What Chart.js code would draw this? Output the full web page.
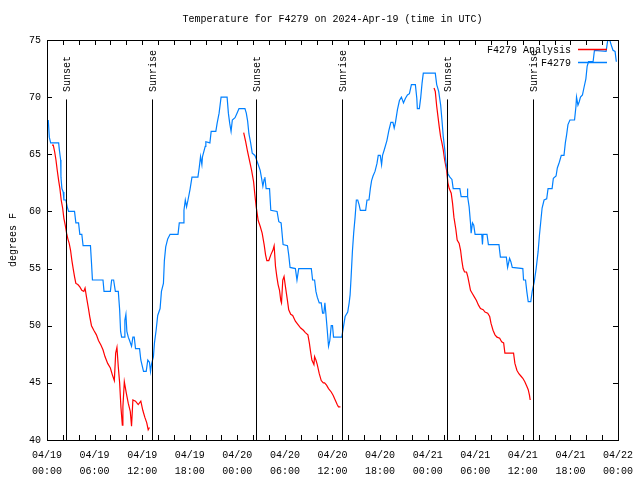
<!DOCTYPE html>
<html>
<head>
<meta charset="utf-8">
<script src="https://cdn.jsdelivr.net/npm/chart.js@4.4.1/dist/chart.umd.min.js"></script>
<style>
  html, body { margin: 0; padding: 0; background: #fff; }
  canvas { display: block; }
</style>
</head>
<body>
<canvas id="chart" width="640" height="480"></canvas>
<script>
// hours since 2024-04-19 00:00 UTC
const obsHours = [0.16,0.29,0.46,1.47,1.54,1.72,1.76,1.88,2.04,2.13,2.38,2.55,2.72,3.47,3.64,3.98,4.14,4.39,4.55,5.48,5.61,5.73,7.06,7.19,7.99,8.15,8.40,8.62,8.99,9.16,9.28,9.41,9.78,9.82,9.95,10.07,10.25,10.41,10.66,10.83,11.0,11.16,11.67,11.83,12.17,12.51,12.71,12.92,13.05,13.17,13.42,13.55,13.76,13.96,14.26,14.43,14.68,14.80,14.97,15.22,15.52,16.52,16.68,17.19,17.27,17.44,17.60,17.78,18.03,18.28,19.03,19.19,19.36,19.53,19.61,19.95,20.03,20.54,20.70,21.29,21.45,21.70,21.95,22.71,22.87,23.04,23.21,23.37,23.71,23.96,24.21,24.96,25.13,25.30,25.46,25.68,25.88,26.22,26.38,26.63,26.88,27.06,27.22,27.38,27.47,27.63,28.06,28.22,29.01,29.23,29.52,29.77,30.32,30.48,30.65,31.32,31.52,31.74,33.33,33.49,33.74,33.91,34.08,34.33,34.58,34.75,34.91,35.04,35.16,35.34,35.50,35.66,35.84,36.00,36.13,37.17,37.38,37.59,37.92,38.10,38.22,38.35,38.51,38.67,38.85,39.01,39.18,39.35,39.51,40.18,40.35,40.60,40.77,40.93,41.11,41.36,41.61,41.77,42.02,42.19,42.31,42.53,42.86,43.11,43.36,43.62,43.78,43.94,44.19,44.44,44.69,44.95,45.20,45.45,45.70,45.95,46.45,46.63,46.70,46.95,47.13,47.29,47.45,48.96,49.14,49.39,49.64,49.80,49.96,50.14,50.30,50.55,50.80,51.06,51.22,52.06,52.22,52.97,53.01,53.06,53.23,53.40,53.48,53.65,53.81,53.98,54.82,54.91,54.98,55.48,55.66,56.99,57.17,57.92,58.08,58.33,58.49,58.67,60.00,60.09,60.34,60.50,60.68,61.00,61.18,61.43,61.68,61.93,62.09,62.26,62.43,62.68,63.01,63.18,63.69,63.85,64.19,64.35,64.60,64.85,65.19,65.36,65.52,65.69,65.94,66.52,66.70,66.77,66.95,67.11,67.27,67.52,67.70,67.95,68.11,68.28,68.86,69.03,70.50,70.71,70.96,71.13,71.37,71.63,71.79];
const obsTemps = [68,66.5,66,66,65.5,64.5,63,62,61.7,61,61,60.4,60,60,59,59,58,58,57,57,55.5,54,54,53,53,54,54,53,53,51.4,49.5,49,49,50.5,51,49.5,49,48.7,48.2,49,49,48,48,47,46,46,47,46.8,46,46.6,47.3,48.5,49.6,50.9,51.5,53,53.7,55.7,56.9,57.6,58,58,59,59,60.1,61,60.4,61,61.9,63,63,63.8,64.8,64.1,64.8,65.7,66.1,66,67,67,67.7,68.6,70,70,68.6,67.7,67,68,68.2,68.6,69,69,68.6,67.9,66.8,66,65.1,64.9,64.6,64.1,63.6,62.9,62.2,62.8,63,62,62,60.1,60,59.1,59,57.1,57,56.2,55.1,55,54,55,55,54,54,53,52.5,52,52,51.1,51.1,52,51.1,49.6,48.2,48.7,50,50,49,49,49.9,50.8,51.2,52,52.7,54.3,56.5,58.1,59.5,61,61,60.6,60.1,60.1,61,61,62,62.7,63.1,63.5,64.2,64.9,64.9,64.1,64.9,65.4,66.2,67.1,67.8,67.8,67.3,67.8,68.9,69.7,70,69.5,69.9,70.2,70.3,71.1,71.1,69.9,69,69,70,71.2,72.1,72.1,71.1,70.5,69.3,68,66.6,65.5,64.3,63.3,63,62.8,62,62,61.3,61.3,62,61.3,60.4,59,58.1,59,58.8,58,58,57.1,58,58,57.1,57.1,56,56,55.1,55.9,55.6,55.1,55,54,54,53,52.1,52.1,53,53.8,55,56.5,57.9,59.1,60.3,61,61.1,62,62,62.9,63.1,63.8,64.3,64.9,64.9,66,66.7,67.6,68,68,69.2,70,69.3,69.6,70,70.2,70.8,71.6,72.7,73.1,73.1,74.1,74,75,75,74.6,74.1,74,73.1];

// analysis only exists overnight; null breaks the line between nights
const anaHours = [0.63,0.79,0.97,1.13,1.29,1.47,1.63,1.79,1.97,2.13,2.30,2.47,2.63,2.80,2.97,3.14,3.30,3.47,3.64,3.89,4.14,4.39,4.64,4.80,4.98,5.23,5.39,5.61,5.90,6.23,6.49,6.81,7.06,7.31,7.65,7.99,8.24,8.49,8.66,8.82,8.99,9.16,9.32,9.50,9.57,9.75,9.82,10.0,10.25,10.50,10.66,10.83,11.16,11.50,11.83,12.08,12.33,12.58,12.76,12.92,
  18,
  24.80,25.05,25.30,25.55,25.80,26.05,26.22,26.38,26.63,26.88,27.13,27.38,27.56,27.72,27.97,28.22,28.48,28.64,28.81,28.98,29.14,29.32,29.48,29.57,29.73,29.89,30.07,30.32,30.48,30.73,30.98,31.32,31.65,31.99,32.33,32.58,32.90,33.08,33.24,33.40,33.66,33.74,33.91,34.08,34.33,34.58,34.84,35.0,35.25,35.50,35.84,36.09,36.34,36.59,36.75,37.0,
  43,
  48.80,48.96,49.14,49.30,49.46,49.64,49.80,49.96,50.14,50.39,50.55,50.72,50.97,51.14,51.31,51.56,51.72,51.97,52.15,52.31,52.47,52.65,52.90,53.06,53.23,53.40,53.65,53.90,54.15,54.41,54.66,55.0,55.23,55.57,55.82,55.99,56.24,56.49,56.74,57.08,57.33,57.58,57.74,58.83,59.0,59.25,59.50,59.75,60.0,60.25,60.50,60.68,60.84,60.93];
const anaTemps = [65.8,65.8,65.2,64.5,63.6,62.7,62,61,60.3,59.4,58.8,58.1,57.6,57.2,56.6,55.7,55,54.3,53.7,53.6,53.4,53.1,53.0,53.3,52.5,51.5,50.8,50,49.6,49.2,48.7,48.3,47.9,47.3,46.7,46.3,45.7,45.2,47.6,48.1,46.4,45,42.9,41.3,42.9,45.1,45.1,44.1,43.2,42.5,41.2,43.5,43.4,43.1,43.4,42.6,42.0,41.5,40.9,41.1,
  null,
  66.9,66.1,65.2,64.4,63.6,62.6,61.4,60.4,59.2,58.7,58.1,57.1,56.2,55.7,55.7,56.2,56.6,57,55.2,54.3,53.6,53.1,52.2,52,54,54.3,53.4,52.2,51.4,51,50.9,50.4,50.1,49.8,49.6,49.4,49.2,48.5,47.7,47,46.6,47.3,47,46.6,45.8,45.2,45,45,44.8,44.5,44.2,43.9,43.5,43.1,42.9,42.9,
  null,
  70.8,70.5,69.2,68.3,67.4,66.5,66,65.4,64.5,63.6,62.5,62,61.6,60.7,59.5,58.4,57.5,57.2,56.6,55.7,55,54.7,54.7,54.3,53.7,53.1,52.8,52.5,52.2,51.8,51.5,51.4,51.2,51.1,50.8,50.2,49.6,49.2,49,48.9,48.6,48.5,47.6,47.6,46.7,46.1,45.8,45.6,45.4,45.1,44.7,44.4,43.9,43.5];

const sunsetHours = [2.42, 26.38, 50.5];
const sunriseHours = [13.2, 37.2, 61.3];

const xTickLabels = [
  ["04/19","00:00"],["04/19","06:00"],["04/19","12:00"],["04/19","18:00"],
  ["04/20","00:00"],["04/20","06:00"],["04/20","12:00"],["04/20","18:00"],
  ["04/21","00:00"],["04/21","06:00"],["04/21","12:00"],["04/21","18:00"],
  ["04/22","00:00"]
];

const FONT = "'Liberation Mono', 'DejaVu Sans Mono', monospace";
Chart.defaults.font.family = FONT;
Chart.defaults.font.size = 10;
Chart.defaults.color = "#000";

const toPoints = (xs, ys) => xs.map((x, i) => ({ x: x, y: ys[i] }));

// frame + inward ticks like gnuplot
const framePlugin = {
  id: "frame",
  afterDatasetsDraw(chart) {
    const { ctx, chartArea: a, scales } = chart;
    ctx.save();
    ctx.strokeStyle = "#000";
    ctx.lineWidth = 1;
    ctx.beginPath();
    for (let v = 40; v <= 75; v += 5) {
      const y = Math.round(scales.y.getPixelForValue(v)) + 0.5;
      ctx.moveTo(a.left, y); ctx.lineTo(a.left + 5, y);
      ctx.moveTo(a.right, y); ctx.lineTo(a.right - 5, y);
    }
    for (let h = 0; h <= 72; h += 2) {
      const x = Math.round(scales.x.getPixelForValue(h)) + 0.5;
      ctx.moveTo(x, a.bottom); ctx.lineTo(x, a.bottom - 5);
      ctx.moveTo(x, a.top); ctx.lineTo(x, a.top + 5);
    }
    ctx.stroke();
    ctx.strokeRect(Math.round(a.left) + 0.5, Math.round(a.top) + 0.5,
      Math.round(a.right - a.left), Math.round(a.bottom - a.top));
    ctx.restore();
  }
};

// sunset / sunrise markers
const sunPlugin = {
  id: "sun",
  afterDatasetsDraw(chart) {
    const { ctx, chartArea: a, scales } = chart;
    const yTop = scales.y.getPixelForValue(69.8);
    const draw = (h, label) => {
      const x = Math.round(scales.x.getPixelForValue(h)) + 0.5;
      ctx.beginPath();
      ctx.moveTo(x, yTop); ctx.lineTo(x, a.bottom);
      ctx.stroke();
      ctx.save();
      ctx.translate(x + 1, a.top + 52);
      ctx.rotate(-Math.PI / 2);
      ctx.textAlign = "left";
      ctx.textBaseline = "middle";
      ctx.fillText(label, 0, 0);
      ctx.restore();
    };
    ctx.save();
    ctx.strokeStyle = "#000";
    ctx.fillStyle = "#000";
    ctx.lineWidth = 1;
    ctx.font = "10px " + FONT;
    sunsetHours.forEach(h => draw(h, "Sunset"));
    sunriseHours.forEach(h => draw(h, "Sunrise"));
    ctx.restore();
  }
};

// gnuplot-style key, top right inside the plot
const keyPlugin = {
  id: "key",
  afterDraw(chart) {
    const { ctx, chartArea: a } = chart;
    const items = [chart.data.datasets[1], chart.data.datasets[0]];
    ctx.save();
    ctx.font = "10px " + FONT;
    ctx.textAlign = "right";
    ctx.textBaseline = "middle";
    items.forEach((ds, i) => {
      const y = Math.round(a.top + 9 + i * 13) + 0.5;
      ctx.fillStyle = "#000";
      ctx.fillText(ds.label, a.right - 47, y + 1);
      ctx.strokeStyle = ds.borderColor;
      ctx.lineWidth = 1.5;
      ctx.beginPath();
      ctx.moveTo(a.right - 40, y); ctx.lineTo(a.right - 11, y);
      ctx.stroke();
    });
    ctx.restore();
  }
};

new Chart(document.getElementById("chart"), {
  type: "line",
  data: {
    datasets: [
      {
        label: "F4279",
        data: toPoints(obsHours, obsTemps),
        borderColor: "rgb(0,128,255)",
        borderWidth: 1.2,
        pointRadius: 0,
        tension: 0
      },
      {
        label: "F4279 Analysis",
        data: toPoints(anaHours, anaTemps),
        borderColor: "rgb(255,0,0)",
        borderWidth: 1.2,
        pointRadius: 0,
        tension: 0,
        spanGaps: false
      }
    ]
  },
  options: {
    responsive: false,
    animation: false,
    layout: { padding: { left: 0, right: 18, top: 0, bottom: 0 } },
    plugins: {
      legend: { display: false },
      tooltip: { enabled: false },
      title: {
        display: true,
        text: "Temperature for F4279 on 2024-Apr-19 (time in UTC)",
        fullSize: false,
        color: "#000",
        font: { size: 10, weight: "normal", family: FONT },
        padding: { top: 13, bottom: 15 }
      }
    },
    scales: {
      x: {
        type: "linear",
        min: 0,
        max: 72,
        grid: { display: false, drawTicks: false },
        border: { display: false },
        ticks: {
          stepSize: 6,
          autoSkip: false,
          maxRotation: 0,
          padding: 7,
          font: { size: 10, lineHeight: 1.6 },
          callback: (v, i) => xTickLabels[i]
        },
        afterFit: s => { s.height = 40; }
      },
      y: {
        min: 40,
        max: 75,
        grid: { display: false, drawTicks: false },
        border: { display: false },
        ticks: { stepSize: 5, padding: 6 },
        title: { display: true, text: "degrees F", padding: { top: 7, bottom: 0 } },
        afterFit: s => { s.width = 47; }
      }
    }
  },
  plugins: [framePlugin, sunPlugin, keyPlugin]
});
</script>
</body>
</html>
